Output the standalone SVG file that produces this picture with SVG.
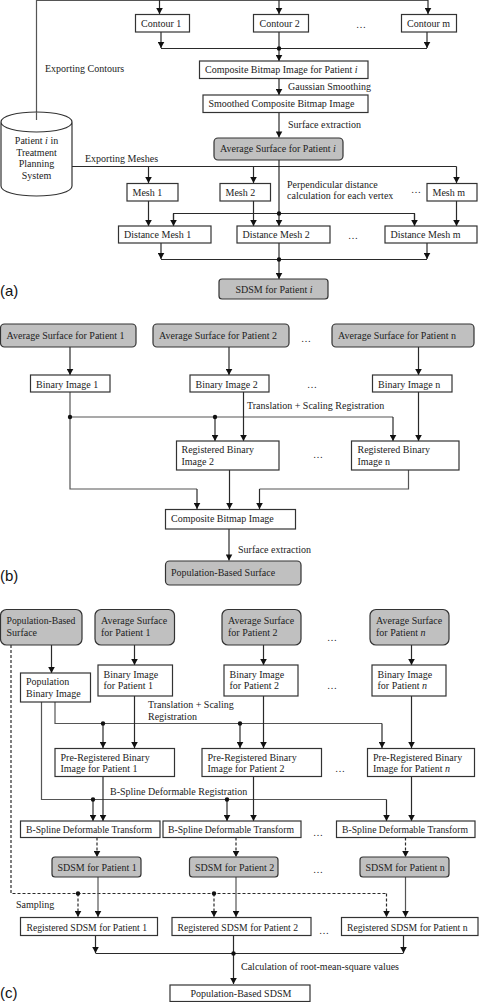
<svg xmlns="http://www.w3.org/2000/svg" width="480" height="1002" viewBox="0 0 480 1002">
<style>
text{font-family:"Liberation Serif","Times New Roman",serif;font-size:10px;fill:#222}
.tag{font-family:"Liberation Sans",Arial,sans-serif;font-size:15px;fill:#111}
.s{font-size:9.7px}
.b{fill:#fff;stroke:#333;stroke-width:1.2}
.g{fill:#c0c0c0;stroke:#333;stroke-width:1.2}
.c{fill:none;stroke:#2a2a2a;stroke-width:1.2;marker-end:url(#a)}
.l{fill:none;stroke:#2a2a2a;stroke-width:1.2}
.gr{stroke:#555}
.d{stroke-dasharray:3 2}
.dot{fill:#111}
</style>
<defs><marker id="a" markerUnits="userSpaceOnUse" markerWidth="7" markerHeight="7" refX="6.5" refY="3.5" orient="auto" viewBox="0 0 7 7"><path d="M0.500 0.200V6.800L6.500 3.500Z" fill="#111"/></marker></defs>

<g id="connectors">
<!-- a -->
<path class="l gr" d="M36.500 120V0.500H428"/>
<path class="c" d="M159.500 0V14"/><path class="c" d="M279 0V14"/><path class="c" d="M428 0V14"/>
<path class="c" d="M161 32V48"/><path class="c" d="M427 32V48"/>
<path class="l" d="M161 48.500H427"/><path class="c" d="M279 32V61"/>
<path class="c" d="M279 78V95"/><path class="c" d="M279 112V137.500"/>
<path class="l" d="M72 166.500H456.500"/>
<path class="c" d="M148.500 166.500V183"/><path class="c" d="M253.500 166.500V183"/><path class="c" d="M456.500 166.500V183"/>
<path class="c" d="M279 160V226"/>
<path class="c" d="M148.500 201V226"/><path class="c" d="M253.500 201V226"/><path class="c" d="M456.500 201V226"/>
<path class="l" d="M173.500 220V213.500H414.500V220"/>
<path class="c" d="M173.500 214V226"/><path class="c" d="M414.500 214V226"/>
<path class="c" d="M161 243V259"/><path class="c" d="M427 243V259"/>
<path class="l" d="M161 259.500H427"/><path class="c" d="M279 243V279"/>
<!-- b -->
<path class="c" d="M70 347V375"/><path class="c" d="M229 347V375"/><path class="c" d="M418.500 347V375"/>
<path class="l gr" d="M70 392V489H197"/><path class="c" d="M197 489V509"/>
<path class="l gr" d="M70 417H393"/><path class="c" d="M393 417V441"/><path class="c" d="M215 417V441"/>
<path class="c" d="M243.500 392V441"/><path class="c" d="M418.500 392V441"/>
<path class="c" d="M229.500 470V509"/>
<path class="l gr" d="M408.500 470V489H259.500"/><path class="c" d="M259.500 489V509"/>
<path class="c" d="M229 529V560.500"/>
<!-- c -->
<path class="l d" d="M11 645V893.500H386.500"/>
<path class="c d" d="M78 893.500V917"/><path class="c d" d="M214 893.500V917"/><path class="c d" d="M386.500 893.500V917"/>
<path class="c" d="M51.500 645V673"/><path class="c" d="M134.500 645V665"/><path class="c" d="M263.500 645V665"/><path class="c" d="M411.500 645V665"/>
<path class="l gr" d="M55 702V723.500H382"/><path class="c" d="M382 723.500V748"/>
<path class="c" d="M103 723.500V748"/><path class="c" d="M240 723.500V748"/>
<path class="c" d="M134.500 696V748"/><path class="c" d="M263.500 696V748"/><path class="c" d="M411.500 696V748"/>
<path class="l gr" d="M41.500 702V799.500H386.500"/><path class="c" d="M386.500 799.500V821"/>
<path class="c" d="M93 799.500V821"/><path class="c" d="M227 799.500V821"/>
<path class="c" d="M103 776.500V821"/><path class="c" d="M253.500 776.500V821"/><path class="c" d="M411.500 776.500V821"/>
<path class="c d" d="M97 837.500V857"/><path class="c d" d="M236 837.500V857"/><path class="c d" d="M405.500 837.500V857"/>
<path class="c gr" d="M98 877V917"/><path class="c gr" d="M236 877V917"/><path class="c gr" d="M405.500 877V917"/>
<path class="c" d="M95.500 935.500V953"/><path class="c" d="M403.500 935.500V953"/>
<path class="l" d="M95.500 953.500H403.500"/><path class="c" d="M233.500 935.500V984"/>
<g class="dot"><circle cx="279" cy="48.500" r="2.200"/><circle cx="279" cy="213.500" r="2.200"/><circle cx="279" cy="259.500" r="2.200"/><circle cx="70" cy="417" r="2.200"/><circle cx="215" cy="417" r="2.200"/><circle cx="103" cy="723.500" r="2.200"/><circle cx="240" cy="723.500" r="2.200"/><circle cx="93" cy="799.500" r="2.200"/><circle cx="227" cy="799.500" r="2.200"/><circle cx="78" cy="893.500" r="2.200"/><circle cx="214" cy="893.500" r="2.200"/><circle cx="233.500" cy="953.500" r="2.200"/></g>
</g>

<g id="edge-labels">
<text x="45" y="72">Exporting Contours</text>
<text x="85" y="162">Exporting Meshes</text>
<text x="288" y="90">Gaussian Smoothing</text>
<text x="288" y="128">Surface extraction</text>
<text x="287" y="188">Perpendicular distance</text>
<text x="287" y="199">calculation for each vertex</text>
<text x="356" y="28">…</text><text x="411" y="193">…</text><text x="348" y="239">…</text>
<text x="247" y="409">Translation + Scaling Registration</text>
<text x="238" y="553">Surface extraction</text>
<text x="301" y="342">…</text><text x="307" y="388">…</text><text x="313" y="458">…</text>
<text x="148" y="708">Translation + Scaling</text>
<text x="148" y="719.500">Registration</text>
<text x="110" y="795">B-Spline Deformable Registration</text>
<text x="16" y="908">Sampling</text>
<text x="241" y="970">Calculation of root-mean-square values</text>
<text x="327" y="641">…</text><text x="327" y="689">…</text><text x="335" y="772">…</text><text x="313" y="836">…</text><text x="313" y="873">…</text><text x="319" y="934">…</text>
</g>

<g id="cylinder"><path class="b" d="M1 122V186C1 192 17 196 36.500 196S72 192 72 186V122C72 116 56 112 36.500 112S1 116 1 122C1 128 17 132 36.500 132S72 128 72 122"/>
<path class="l gr" d="M36.500 112V120"/>
<text x="36.500" y="144" text-anchor="middle">Patient <tspan font-style="italic">i</tspan> in</text><text x="36.500" y="155.500" text-anchor="middle">Treatment</text><text x="36.500" y="167" text-anchor="middle">Planning</text><text x="36.500" y="178.500" text-anchor="middle">System</text></g>

<g id="contour1"><rect class="b" x="135.500" y="14.500" width="54" height="17.500"/><text x="141" y="27">Contour 1</text></g>
<g id="contour2"><rect class="b" x="253.500" y="14.500" width="55" height="17.500"/><text x="259.500" y="27">Contour 2</text></g>
<g id="contourm"><rect class="b" x="401.500" y="14.500" width="55" height="17.500"/><text x="407" y="27">Contour m</text></g>
<g id="composite-a"><rect class="b" x="199.500" y="61" width="168.500" height="17.500"/><text x="205" y="73">Composite Bitmap Image for Patient <tspan font-style="italic">i</tspan></text></g>
<g id="smoothed"><rect class="b" x="203" y="95" width="165" height="17.500"/><text x="208.500" y="107">Smoothed Composite Bitmap Image</text></g>
<g id="average-a"><rect class="g" x="214" y="138" width="129" height="22" rx="4"/><text x="220" y="152">Average Surface for Patient <tspan font-style="italic">i</tspan></text></g>
<g id="mesh1"><rect class="b" x="127" y="183.500" width="51" height="17.500"/><text x="132.500" y="196">Mesh 1</text></g>
<g id="mesh2"><rect class="b" x="220" y="183.500" width="50.500" height="17.500"/><text x="225.500" y="196">Mesh 2</text></g>
<g id="meshm"><rect class="b" x="427" y="183.500" width="50" height="17.500"/><text x="432.500" y="196">Mesh m</text></g>
<g id="dist1"><rect class="b" x="118.500" y="226" width="92.500" height="17"/><text x="124" y="238">Distance Mesh 1</text></g>
<g id="dist2"><rect class="b" x="237" y="226" width="93" height="17"/><text x="242.500" y="238">Distance Mesh 2</text></g>
<g id="distm"><rect class="b" x="385" y="226" width="92" height="17"/><text x="390.500" y="238">Distance Mesh m</text></g>
<g id="sdsm-a"><rect class="g" x="219" y="279" width="109" height="20" rx="3"/><text x="235.500" y="293">SDSM for Patient <tspan font-style="italic">i</tspan></text></g>
<text class="tag" x="0" y="296">(a)</text>

<g id="avg-b1"><rect class="g" x="0.500" y="324" width="135.500" height="23" rx="4"/><text x="6.500" y="339">Average Surface for Patient 1</text></g>
<g id="avg-b2"><rect class="g" x="153" y="324" width="136" height="23" rx="4"/><text x="159" y="339">Average Surface for Patient 2</text></g>
<g id="avg-bn"><rect class="g" x="332" y="324" width="142" height="23" rx="4"/><text x="338" y="339">Average Surface for Patient n</text></g>
<g id="bin1"><rect class="b" x="30.500" y="375" width="79.500" height="17"/><text x="36" y="388">Binary Image 1</text></g>
<g id="bin2"><rect class="b" x="190" y="375" width="79" height="17"/><text x="195.500" y="388">Binary Image 2</text></g>
<g id="binn"><rect class="b" x="372.500" y="375" width="79.500" height="17"/><text x="378" y="388">Binary Image n</text></g>
<g id="reg2"><rect class="b" x="176.500" y="441" width="102.500" height="29"/><text x="181.500" y="453">Registered Binary</text><text x="181.500" y="465">Image 2</text></g>
<g id="regn"><rect class="b" x="351.500" y="441" width="107.500" height="29"/><text x="357.500" y="453">Registered Binary</text><text x="357.500" y="465">Image n</text></g>
<g id="composite-b"><rect class="b" x="165.500" y="509.500" width="130" height="19.500"/><text x="171" y="522">Composite Bitmap Image</text></g>
<g id="pop-b"><rect class="g" x="165.500" y="561" width="135.500" height="24" rx="4"/><text x="171" y="576">Population-Based Surface</text></g>
<text class="tag" x="0" y="581">(b)</text>

<g id="pop-c"><rect class="g" x="0.500" y="609.500" width="81.500" height="35.500" rx="6"/><text class="s" x="6.500" y="624">Population-Based</text><text x="6.500" y="636">Surface</text></g>
<g id="avg-c1"><rect class="g" x="95" y="609.500" width="79.500" height="35.500" rx="6"/><text x="101" y="624">Average Surface</text><text x="101" y="636">for Patient 1</text></g>
<g id="avg-c2"><rect class="g" x="222" y="609.500" width="79" height="35.500" rx="6"/><text x="228" y="624">Average Surface</text><text x="228" y="636">for Patient 2</text></g>
<g id="avg-cn"><rect class="g" x="370" y="609.500" width="79" height="35.500" rx="6"/><text x="376" y="624">Average Surface</text><text x="376" y="636">for Patient <tspan font-style="italic">n</tspan></text></g>
<g id="pop-bin"><rect class="b" x="20.500" y="673" width="70" height="29"/><text x="26" y="685">Population</text><text x="26" y="697">Binary Image</text></g>
<g id="bin-c1"><rect class="b" x="98" y="665" width="74.500" height="31"/><text x="103.500" y="678">Binary Image</text><text x="103.500" y="689">for Patient 1</text></g>
<g id="bin-c2"><rect class="b" x="224" y="665" width="74" height="31"/><text x="229.500" y="678">Binary Image</text><text x="229.500" y="689">for Patient 2</text></g>
<g id="bin-cn"><rect class="b" x="372" y="665" width="74" height="31"/><text x="377.500" y="678">Binary Image</text><text x="377.500" y="689">for Patient <tspan font-style="italic">n</tspan></text></g>
<g id="pre1"><rect class="b" x="55" y="748.500" width="119.500" height="28"/><text x="60.500" y="761">Pre-Registered Binary</text><text x="60.500" y="772">Image for Patient 1</text></g>
<g id="pre2"><rect class="b" x="202" y="748.500" width="119.500" height="28"/><text x="207.500" y="761">Pre-Registered Binary</text><text x="207.500" y="772">Image for Patient 2</text></g>
<g id="pren"><rect class="b" x="367.500" y="748.500" width="107" height="28"/><text x="373" y="761">Pre-Registered Binary</text><text x="373" y="772">Image for Patient <tspan font-style="italic">n</tspan></text></g>
<g id="bs1"><rect class="b" x="20.500" y="821" width="139.500" height="16.500"/><text class="s" x="26" y="832.500">B-Spline Deformable Transform</text></g>
<g id="bs2"><rect class="b" x="163" y="821" width="138" height="16.500"/><text class="s" x="168" y="832.500">B-Spline Deformable Transform</text></g>
<g id="bsn"><rect class="b" x="336.500" y="821" width="138.500" height="16.500"/><text class="s" x="342" y="832.500">B-Spline Deformable Transform</text></g>
<g id="sdsm1"><rect class="g" x="52" y="857" width="89" height="20" rx="3"/><text x="57.500" y="871">SDSM for Patient 1</text></g>
<g id="sdsm2"><rect class="g" x="189.500" y="857" width="88.500" height="20" rx="3"/><text x="195" y="871">SDSM for Patient 2</text></g>
<g id="sdsmn"><rect class="g" x="360" y="857" width="89" height="20" rx="3"/><text x="365.500" y="871">SDSM for Patient n</text></g>
<g id="regs1"><rect class="b" x="20.500" y="917.500" width="137" height="18"/><text class="s" x="26.500" y="930.500">Registered SDSM for Patient 1</text></g>
<g id="regs2"><rect class="b" x="172" y="917.500" width="139" height="18"/><text class="s" x="177.500" y="930.500">Registered SDSM for Patient 2</text></g>
<g id="regsn"><rect class="b" x="341.500" y="917.500" width="136.500" height="18"/><text class="s" x="347" y="930.500">Registered SDSM for Patient n</text></g>
<g id="pop-sdsm"><rect class="b" x="170" y="985" width="140" height="16.500"/><text x="190.500" y="997">Population-Based SDSM</text></g>
<text class="tag" x="0" y="998">(c)</text>
</svg>
